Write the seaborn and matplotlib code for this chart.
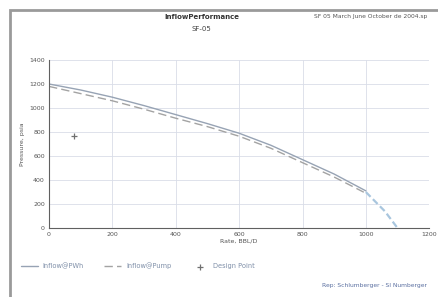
import numpy as np
import pandas as pd
import seaborn as sns
import matplotlib
matplotlib.use('Agg')
import matplotlib.pyplot as plt
from matplotlib.patches import Rectangle

# data
rate_pwh = [0, 100, 200, 300, 400, 500, 600, 700, 800, 900, 1000]
pres_pwh = [1200, 1150, 1090, 1020, 945, 870, 790, 690, 570, 450, 310]
rate_pump = [0, 100, 200, 300, 400, 500, 600, 700, 800, 900, 1000]
pres_pump = [1180, 1120, 1060, 990, 915, 845, 765, 665, 545, 425, 290]
rate_tail = [1000, 1030, 1060, 1080, 1100]
pres_tail = [300, 220, 140, 70, 0]
design_rate = [80]
design_pres = [770]

sns.set_theme(style='whitegrid')
plt.rcParams['font.family'] = ['DejaVu Sans']

fig = plt.figure(figsize=(4.38, 2.97), dpi=100)
fig.patches.append(Rectangle((0.023, -0.01), 1.0, 0.976, transform=fig.transFigure,
                             fill=False, edgecolor='#9a9a9a', linewidth=2))
ax = fig.add_axes([0.112, 0.232, 0.868, 0.566])

df1 = pd.DataFrame({'rate': rate_pwh, 'p': pres_pwh})
df2 = pd.DataFrame({'rate': rate_pump, 'p': pres_pump})
sns.lineplot(data=df1, x='rate', y='p', ax=ax, color='#97a3b4', linewidth=1.0, label='Inflow@PWh')
sns.lineplot(data=df2, x='rate', y='p', ax=ax, color='#a3a3a3', linewidth=1.0,
             linestyle=(0, (6, 3)), label='Inflow@Pump')
ax.plot(rate_tail, pres_tail, color='#a9c6de', linewidth=1.6, linestyle=(0, (3, 1.5)))
ax.scatter(design_rate, design_pres, marker='+', s=18, color='#707070', linewidths=0.9,
           label='Design Point', zorder=5)

ax.set_xlim(0, 1200)
ax.set_ylim(0, 1400)
ax.set_xticks(range(0, 1201, 200))
ax.set_yticks(range(0, 1401, 200))
ax.grid(True, color='#d9dde8', linewidth=0.6)
ax.set_facecolor('white')
for s in ['top', 'right']:
    ax.spines[s].set_visible(False)
for s in ['left', 'bottom']:
    ax.spines[s].set_color('#606060')
    ax.spines[s].set_linewidth(0.8)
ax.tick_params(labelsize=4.5, colors='#555555', length=2, pad=1)
ax.set_xlabel('Rate, BBL/D', fontsize=4.5, color='#555555', labelpad=1)
ax.set_ylabel('Pressure, psia', fontsize=4.5, color='#555555', labelpad=3)

ax.legend(loc='upper left', bbox_to_anchor=(-0.09, -0.17), ncol=3, frameon=False,
          fontsize=4.8, handlelength=2.5, columnspacing=3, labelcolor='#7f8fa8')

fig.text(0.46, 0.935, 'InflowPerformance', fontsize=5, fontweight='bold', color='#333333', ha='center')
fig.text(0.46, 0.895, 'SF-05', fontsize=5, color='#444444', ha='center')
fig.text(0.975, 0.94, 'SF 05 March June October de 2004.sp', fontsize=4.3, color='#555555', ha='right')
fig.text(0.975, 0.035, 'Rep: Schlumberger - SI Numberger', fontsize=4.3, color='#5a6fa0', ha='right')

fig.savefig('out.png', dpi=100)
